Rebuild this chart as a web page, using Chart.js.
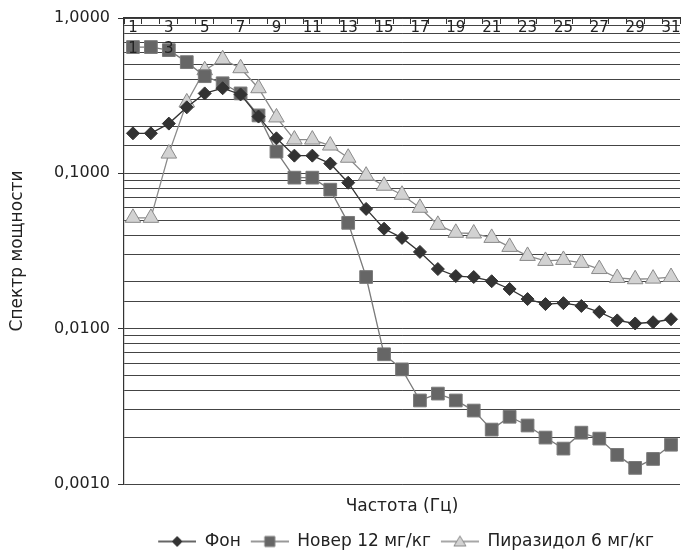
<!DOCTYPE html>
<html>
<head>
<meta charset="utf-8">
<script src="https://cdn.jsdelivr.net/npm/chart.js@4/dist/chart.umd.min.js"></script>
<style>
  html, body { margin: 0; padding: 0; background: #fff; }
  #wrap { width: 690px; height: 552px; }
</style>
</head>
<body>
<div id="wrap"><canvas id="myChart"></canvas></div>
<script>
// частота, Гц
const freq = ['1','2','3','4','5','6','7','8','9','10','11','12','13','14','15','16',
  '17','18','19','20','21','22','23','24','25','26','27','28','29','30','31'];

const fon = [0.181, 0.181, 0.209, 0.266, 0.327, 0.353, 0.322, 0.232, 0.168, 0.130, 0.130,
  0.1156, 0.087, 0.059, 0.044, 0.0384, 0.0312, 0.0242, 0.0218, 0.0215, 0.0202, 0.0180,
  0.0155, 0.0144, 0.0146, 0.0140, 0.0128, 0.0113, 0.0108, 0.0110, 0.0115];

const nover = [0.650, 0.650, 0.621, 0.520, 0.422, 0.380, 0.327, 0.236, 0.138, 0.0938, 0.0938,
  0.0785, 0.048, 0.0215, 0.00684, 0.00547, 0.00345, 0.00382, 0.00345, 0.00297, 0.00224,
  0.00271, 0.00238, 0.00199, 0.00169, 0.00214, 0.00196, 0.00154, 0.00127, 0.00145, 0.00179];

const pirazidol = [0.0517, 0.0517, 0.134, 0.286, 0.461, 0.543, 0.475, 0.353, 0.229, 0.165, 0.165,
  0.151, 0.126, 0.0966, 0.0832, 0.0728, 0.060, 0.0466, 0.0414, 0.0410, 0.0384, 0.0336,
  0.0294, 0.0273, 0.0277, 0.0265, 0.0242, 0.0212, 0.0208, 0.0210, 0.0215];

const names = ['Фон', 'Новер 12 мг/кг', 'Пиразидол 6 мг/кг'];

// лишние подписи "1" и "3" поверх квадратов, как в исходнике
const strayText = ['1', '3'];
const strayIdx = [0, 2];

const FONT = '"DejaVu Sans", Verdana, sans-serif';
const TXT = '#222';

function isMajor(v) {
  const l = Math.log10(v);
  return Math.abs(l - Math.round(l)) < 1e-6;
}

// картинка для легенды: линия + маркер (слева небольшой отступ)
function legendIcon(style, fill, stroke, lineColor) {
  const c = document.createElement('canvas');
  c.width = 46; c.height = 16;
  const g = c.getContext('2d');
  const x0 = 8, cx = 27;
  g.strokeStyle = lineColor; g.lineWidth = 1.3;
  g.beginPath(); g.moveTo(x0, 8); g.lineTo(46, 8); g.stroke();
  g.fillStyle = fill; g.strokeStyle = stroke; g.lineWidth = 1;
  g.beginPath();
  if (style === 'rectRot') {
    g.moveTo(cx, 3); g.lineTo(cx + 5, 8); g.lineTo(cx, 13); g.lineTo(cx - 5, 8); g.closePath();
  } else if (style === 'rect') {
    g.rect(cx - 5, 3, 10, 10);
  } else {
    g.moveTo(cx, 2.5); g.lineTo(cx + 6, 12.5); g.lineTo(cx - 6, 12.5); g.closePath();
  }
  g.fill(); g.stroke();
  return c;
}

const icons = [
  legendIcon('rectRot', '#333', '#333', '#333'),
  legendIcon('rect', '#666', '#777', '#777'),
  legendIcon('triangle', '#d2d2d2', '#8a8a8a', '#8a8a8a')
];

const strayPlugin = {
  id: 'stray',
  afterDatasetsDraw(chart) {
    const {ctx, scales} = chart;
    ctx.save();
    ctx.font = '15px ' + FONT;
    ctx.fillStyle = TXT;
    ctx.textAlign = 'center';
    ctx.textBaseline = 'middle';
    strayText.forEach((t, k) => {
      const i = strayIdx[k];
      ctx.fillText(t, scales.x.getPixelForValue(i), scales.y.getPixelForValue(nover[0]) + 2);
    });
    ctx.restore();
  }
};

const ctx = document.getElementById('myChart');

new Chart(ctx, {
  type: 'line',
  data: {
    labels: freq,
    datasets: [
      {
        label: names[0], data: fon,
        borderColor: '#333', borderWidth: 1.3,
        pointStyle: 'rectRot', pointRadius: 6.5, pointBackgroundColor: '#333',
        pointBorderColor: '#333', pointBorderWidth: 1
      },
      {
        label: names[1], data: nover,
        borderColor: '#7a7a7a', borderWidth: 1.3,
        pointStyle: 'rect', pointRadius: 9, pointBackgroundColor: '#666',
        pointBorderColor: '#7a7a7a', pointBorderWidth: 1
      },
      {
        label: names[2], data: pirazidol,
        borderColor: '#8a8a8a', borderWidth: 1.3,
        pointStyle: 'triangle', pointRadius: 9, pointBackgroundColor: '#d2d2d2',
        pointBorderColor: '#8a8a8a', pointBorderWidth: 1
      }
    ]
  },
  options: {
    responsive: true,
    maintainAspectRatio: false,
    animation: false,
    layout: { padding: { top: 18, right: 0, left: 0, bottom: -8 } },
    plugins: {
      tooltip: { enabled: false },
      legend: {
        position: 'bottom',
        fullSize: false,
        labels: {
          usePointStyle: true,
          pointStyleWidth: 46,
          padding: 2,
          color: TXT,
          font: { family: FONT, size: 17 },
          generateLabels(chart) {
            return chart.data.datasets.map((d, i) => ({
              text: d.label, pointStyle: icons[i], datasetIndex: i,
              fillStyle: 'transparent', strokeStyle: 'transparent', lineWidth: 0, fontColor: TXT
            }));
          }
        }
      }
    },
    scales: {
      x: {
        position: 'top',
        offset: true,
        grid: { drawOnChartArea: false, offset: true, tickLength: -6, color: '#333', lineWidth: 1 },
        border: { color: '#333', width: 1.2 },
        ticks: {
          autoSkip: false, maxRotation: 0, minRotation: 0, mirror: true, padding: 1.5,
          color: TXT, font: { family: FONT, size: 15 },
          callback: (v, i) => (i % 2 === 0 ? freq[i] : '')
        },
        afterFit(s) { s.height = 0; }
      },
      x2: {
        type: 'category', position: 'bottom', labels: freq, offset: true,
        grid: { display: false, drawTicks: false }, border: { display: false },
        ticks: { display: false },
        title: { display: true, text: 'Частота (Гц)', color: TXT,
          font: { family: FONT, size: 17 }, padding: { top: 12.8, bottom: 13.8 } }
      },
      y: {
        type: 'logarithmic', min: 0.001, max: 1,
        grid: {
          color: '#444', lineWidth: 1, tickLength: 6,
          tickColor: c => (isMajor(c.tick.value) ? '#333' : 'rgba(0,0,0,0)')
        },
        border: { color: '#333', width: 1.2 },
        ticks: {
          autoSkip: false, padding: 8, color: TXT,
          font: { family: FONT, size: 16 },
          callback: v => (isMajor(v) ? v.toFixed(4).replace('.', ',') : '')
        },
        title: { display: true, text: 'Спектр мощности', color: TXT,
          font: { family: FONT, size: 17 }, padding: { top: 7.8, bottom: 0 } },
        afterFit(s) { s.width = 124; }
      }
    }
  },
  plugins: [strayPlugin]
});
</script>
</body>
</html>
